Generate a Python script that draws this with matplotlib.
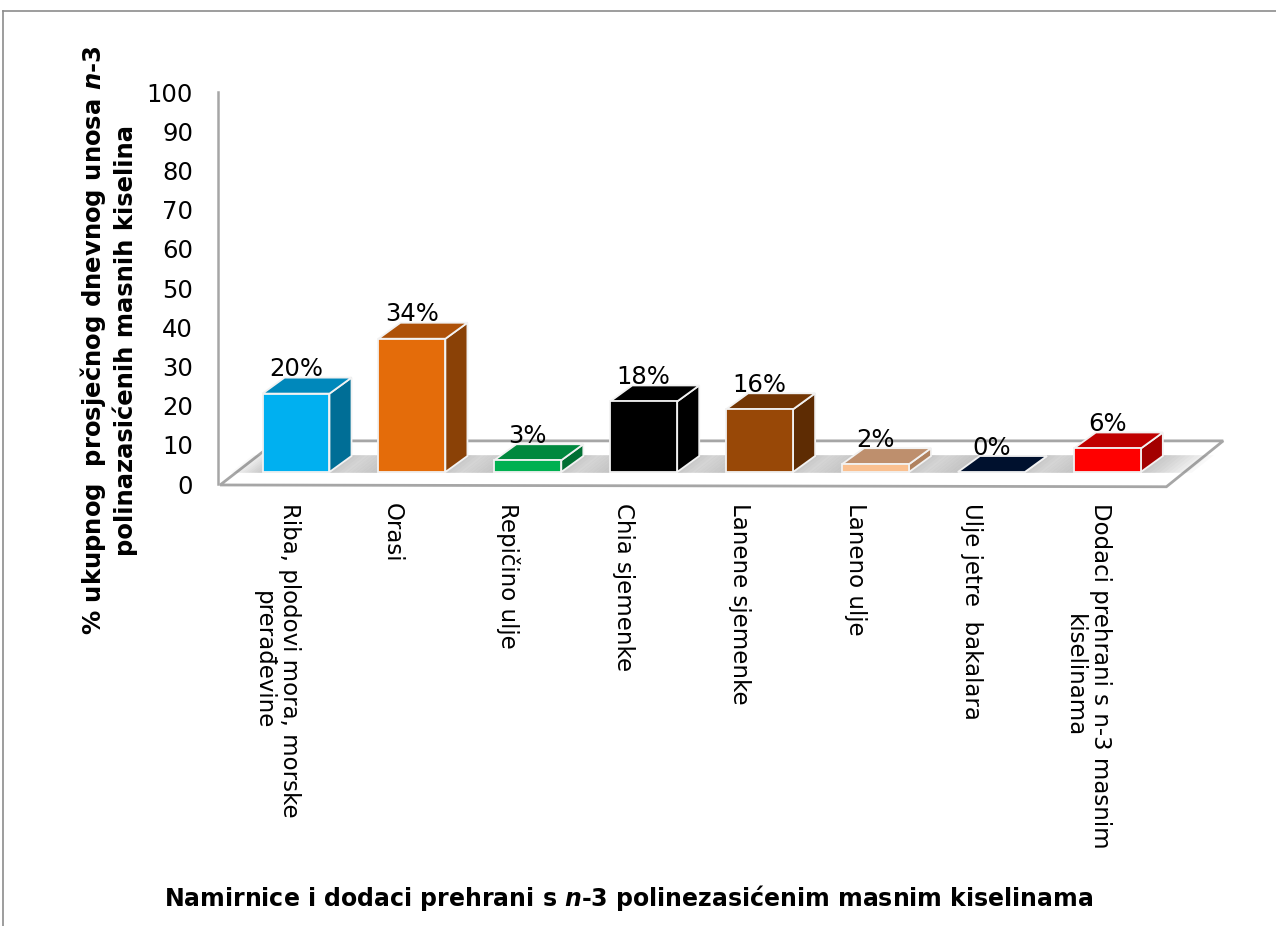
#!/usr/bin/env python3
"""Excel-style 3D column chart: n-3 PUFA intake share by food source."""
import numpy as np
import matplotlib
matplotlib.use('Agg')
import matplotlib.pyplot as plt
from matplotlib.patches import Polygon
from matplotlib.lines import Line2D

plt.rcParams['font.family'] = ['DejaVu Sans']
plt.rcParams['mathtext.fontset'] = 'custom'
plt.rcParams['mathtext.it'] = 'DejaVu Sans:italic:bold'
plt.rcParams['mathtext.rm'] = 'DejaVu Sans:bold'

categories = [
    'Riba, plodovi mora, morske\nprerađevine',
    'Orasi',
    'Repičino ulje',
    'Chia sjemenke',
    'Lanene sjemenke',
    'Laneno ulje',
    'Ulje jetre  bakalara',
    'Dodaci prehrani s n-3 masnim\nkiselinama',
]
values = [20, 34, 3, 18, 16, 2, 0, 6]
front_colors = ['#00B0F0', '#E46C0A', '#00B050', '#000000',
                '#984807', '#FAC090', '#00112E', '#FF0000']
top_colors = ['#0088BB', '#AE5108', '#00883E', '#000000',
              '#733604', '#BE8F6D', '#00112E', '#C00000']
side_colors = ['#006E96', '#8A4106', '#006F32', '#000000',
               '#5E2C03', '#B0825F', '#00112E', '#A30000']
yticks = list(range(0, 101, 10))

W, H = 1276, 926
fig = plt.figure(figsize=(W / 100, H / 100), dpi=100)
ax = fig.add_axes([218 / W, (H - 484) / H, (1235 - 218) / W, (484 - 92) / H])
ax.set_xlim(-0.673, -0.673 + (1235 - 218) / 115.9)
ax.set_ylim(0, 100)

# projection offsets (category units / percent units)
DX, DY = 0.19, 4.08
BASE = 3.06
BW = 0.578

# floor
floor = Polygon([(-0.655, -0.25), (7.51, -0.7), (8.0, 11.0), (-0.165, 11.0)],
                closed=True, facecolor='white', edgecolor='#A6A6A6',
                linewidth=2, clip_on=False, zorder=1)
ax.add_patch(floor)

# soft shadows on the floor
for i, v in enumerate(values):
    x0, x1 = i - BW / 2, i + BW / 2
    for k in range(12):
        el = 0.025 * k
        er = 0.04 * k
        sh = Polygon([(x0 - el, BASE - 0.2), (x1 + er, BASE - 0.2),
                      (x1 + DX + er, BASE + DY + 0.2), (x0 + DX - el, BASE + DY + 0.2)],
                     closed=True, facecolor='#666666', edgecolor='none',
                     alpha=0.035, clip_on=False, zorder=2)
        ax.add_patch(sh)
        sh.set_clip_path(floor)

# bars
edge = dict(edgecolor='#F2F2F2', linewidth=1.3, clip_on=False, zorder=3)
for i, v in enumerate(values):
    x0, x1 = i - BW / 2, i + BW / 2
    top = BASE + v
    ax.add_patch(Polygon([(x1, BASE), (x1 + DX, BASE + DY), (x1 + DX, top + DY), (x1, top)],
                         closed=True, facecolor=side_colors[i], **edge))
    ax.add_patch(Polygon([(x0, top), (x1, top), (x1 + DX, top + DY), (x0 + DX, top + DY)],
                         closed=True, facecolor=top_colors[i], **edge))
    if v > 0:
        ax.add_patch(Polygon([(x0, BASE), (x1, BASE), (x1, top), (x0, top)],
                             closed=True, facecolor=front_colors[i], **edge))
    ax.text(i, top + DY - 0.9, f'{v}%', ha='center', va='bottom',
            fontsize=17.5, color='black', zorder=5)
    ax.text(i - 0.17, -4.8, categories[i], rotation=-90, ha='center', va='top',
            multialignment='center', fontsize=16.5, color='black', clip_on=False)

ax.set_xticks([])
ax.set_yticks(yticks)
ax.tick_params(axis='y', length=0, pad=18, labelsize=17.5)
for s in ['top', 'right', 'bottom']:
    ax.spines[s].set_visible(False)
ax.spines['left'].set_color('#A6A6A6')
ax.spines['left'].set_linewidth(1.8)
ax.patch.set_visible(False)

fig.text(108 / W, 1 - 340 / H,
         '% ukupnog  prosječnog dnevnog unosa $n$-3\npolinazasićenih masnih kiselina',
         rotation=90, ha='center', va='center', multialignment='center',
         fontsize=17.5, fontweight='bold')
fig.text(629 / W, 1 - 898 / H,
         'Namirnice i dodaci prehrani s $n$-3 polinezasićenim masnim kiselinama',
         ha='center', va='center', fontsize=17, fontweight='bold')

# chart frame (top and left edges)
fig.add_artist(Line2D([3 / W, 1], [1 - 11 / H, 1 - 11 / H], color='#8C8C8C', lw=1.2))
fig.add_artist(Line2D([3 / W, 3 / W], [0, 1 - 11 / H], color='#8C8C8C', lw=1.2))

fig.savefig('out.png', dpi=100)
plt.close(fig)
